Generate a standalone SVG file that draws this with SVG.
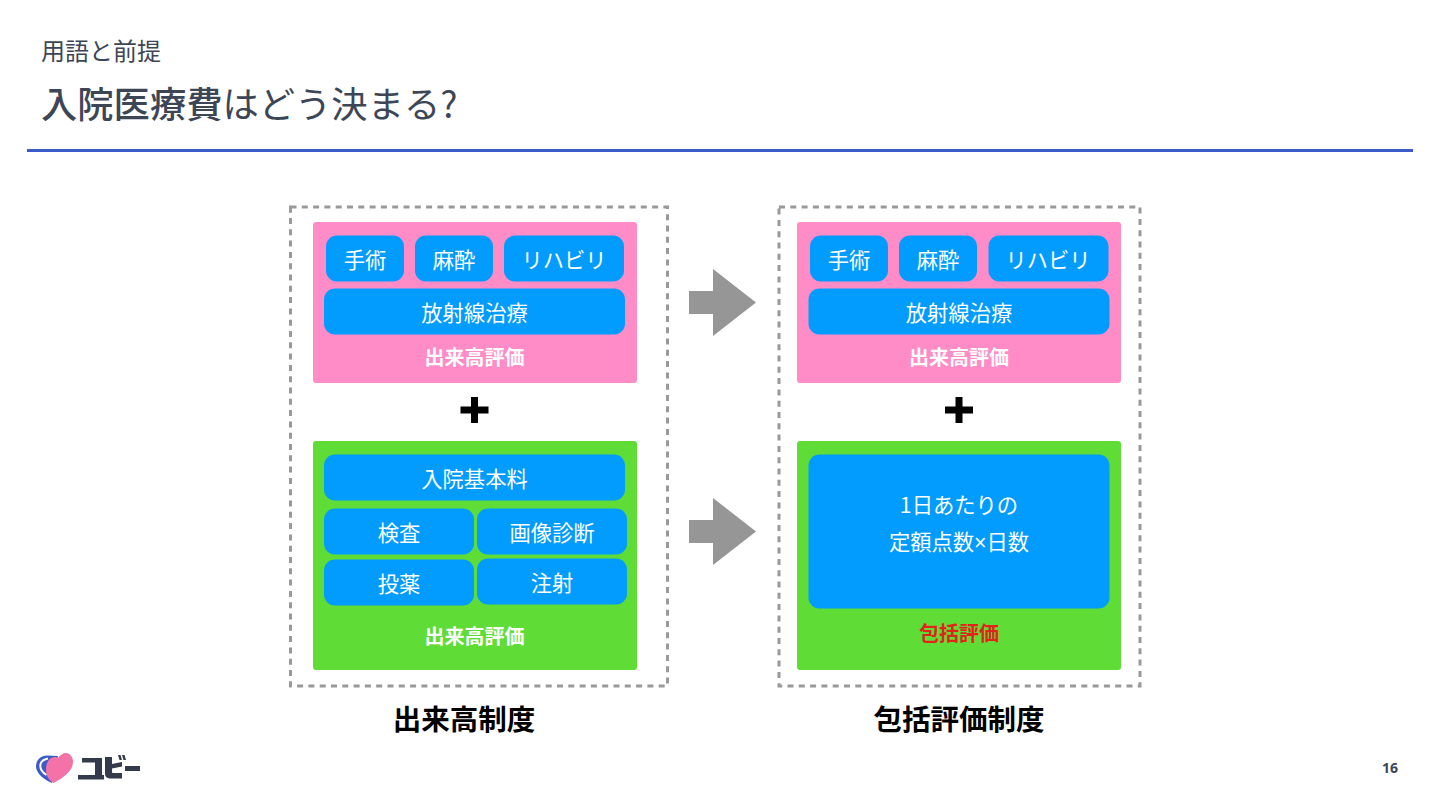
<svg xmlns="http://www.w3.org/2000/svg" width="1440" height="810" viewBox="0 0 1440 810">
<style>
text{font-family:"Noto Sans CJK JP","Noto Sans",sans-serif;text-anchor:middle}
.b{fill:#019cfe}
.t{fill:#fff;font-size:21.300px}
.e{fill:#fff;font-size:20px;font-weight:700}
.frame{fill:none;stroke:#999;stroke-width:3;stroke-dasharray:6 5.3}
.cap{fill:#000;font-size:28.500px;font-weight:700}
.plus{fill:#000}
.arrow{fill:#969696}
</style>
<rect width="1440" height="810" fill="#fff"/>
<text x="41" y="60" style="text-anchor:start;font-size:24px;fill:#3d4656">用語と前提</text>
<text x="41" y="118" style="text-anchor:start;font-size:36.300px;fill:#3d4656"><tspan font-weight="500">入院医療費</tspan>はどう決まる?</text>
<rect x="27" y="149" width="1386" height="3" fill="#3b5bc9"/>

<g id="system-left">
<rect class="frame" x="290.500" y="207" width="377" height="479"/>
<text class="cap" x="464" y="730">出来高制度</text>
</g>
<g id="pink-left">
<rect x="313" y="222" width="324" height="161" rx="3" fill="#ff8cc6"/>
<rect class="b" x="326" y="235.500" width="78" height="46" rx="11"/><text class="t" x="365" y="268">手術</text>
<rect class="b" x="415" y="235.500" width="78" height="46" rx="11"/><text class="t" x="454" y="268">麻酔</text>
<rect class="b" x="504" y="235.500" width="120" height="46" rx="11"/><text class="t" x="564" y="268">リハビリ</text>
<rect class="b" x="324" y="288.500" width="301" height="46" rx="11"/><text class="t" x="474.500" y="321">放射線治療</text>
<text class="e" x="474.500" y="365">出来高評価</text>
</g>
<path id="plus-left" class="plus" d="M471 397h7v9.500h10.500v7h-10.500v9.500h-7v-9.500h-10.500v-7h10.500z"/>
<g id="green-left">
<rect x="313" y="441" width="324" height="229" rx="3" fill="#5fdc36"/>
<rect class="b" x="324" y="454.500" width="301" height="46" rx="11"/><text class="t" x="474.500" y="487">入院基本料</text>
<rect class="b" x="324" y="508.500" width="150" height="46" rx="11"/><text class="t" x="399" y="541">検査</text>
<rect class="b" x="477" y="508.500" width="150" height="46" rx="11"/><text class="t" x="552" y="541">画像診断</text>
<rect class="b" x="324" y="559.500" width="150" height="46" rx="11"/><text class="t" x="399" y="592">投薬</text>
<rect class="b" x="477" y="558.500" width="150" height="46" rx="11"/><text class="t" x="552" y="591">注射</text>
<text class="e" x="474.500" y="644">出来高評価</text>
</g>

<g id="connectors">
<path class="arrow" d="M689 291h24v-22l43 33.500-43 33.500v-22h-24z"/>
<path class="arrow" d="M689 520h24v-22l43 33.500-43 33.500v-22h-24z"/>
</g>

<g id="system-right">
<rect class="frame" x="779" y="207" width="361" height="479"/>
<text class="cap" x="959" y="730">包括評価制度</text>
</g>
<g id="pink-right">
<rect x="797" y="222" width="324" height="161" rx="3" fill="#ff8cc6"/>
<rect class="b" x="810" y="235.500" width="78" height="46" rx="11"/><text class="t" x="849" y="268">手術</text>
<rect class="b" x="899" y="235.500" width="78" height="46" rx="11"/><text class="t" x="938" y="268">麻酔</text>
<rect class="b" x="988.500" y="235.500" width="120" height="46" rx="11"/><text class="t" x="1048" y="268">リハビリ</text>
<rect class="b" x="808.500" y="288.500" width="301" height="46" rx="11"/><text class="t" x="959" y="321">放射線治療</text>
<text class="e" x="959" y="365">出来高評価</text>
</g>
<path id="plus-right" class="plus" d="M955.500 397h7v9.500h10.500v7h-10.500v9.500h-7v-9.500h-10.500v-7h10.500z"/>
<g id="green-right">
<rect x="797" y="441" width="324" height="229" rx="3" fill="#5fdc36"/>
<rect class="b" x="808.500" y="454.500" width="301" height="154" rx="11"/>
<text class="t" x="959" y="513">1日あたりの</text>
<text class="t" x="959" y="550">定額点数<tspan style="font-family:'Liberation Sans',sans-serif">×</tspan>日数</text>
<text class="e" x="959" y="641" style="fill:#e0241b">包括評価</text>
</g>

<g id="logo">
<path d="M47 755.500c-7 0-11 5-11 11 0 6 7 13 16 16.500l6-27z" fill="#3b5bc9"/>
<path d="M48 758.500c-10 2-10 11-1.500 16.500" fill="none" stroke="#fff" stroke-width="2"/>
<path d="M53.500 783c-5-3-7.500-7-7.500-14 0-7 4-12 9-12 1 0 2 0 3 1 2-3 5-5 8-5 4 0 7 4 7 9 0 9-10 16-19.500 21z" fill="#f472a8"/>
<path d="M82 758h20v17h2v4.500h-26v-4.500h17v-12.500h-13z M105 757h7v7l10-2v4.500l-10 2v3c0 1 0 1.500 2 1.500h8v5.500h-11c-4 0-6-1.500-6-5z M118 755l2.500 0 1.500 5-2.500 0z M122 755l2.500 0 1.500 5-2.500 0z M125 766h15v5h-15z" fill="#323a4c"/>
</g>
<text x="1390" y="773" style="font-family:'Open Sans','Noto Sans',sans-serif;font-size:14px;font-weight:700;fill:#3d4656">16</text>
</svg>
